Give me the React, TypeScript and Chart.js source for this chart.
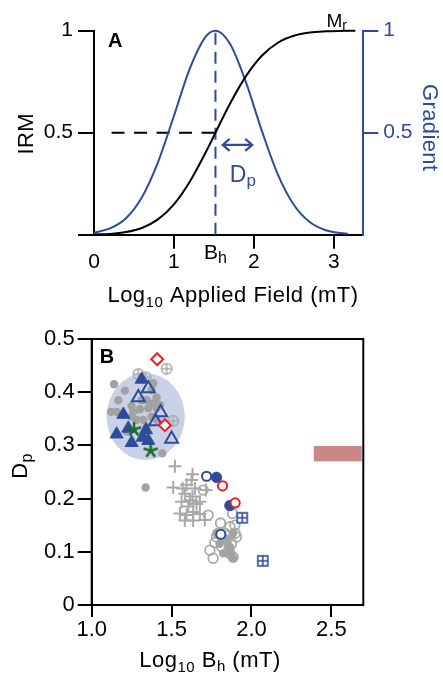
import React, { useEffect, useRef } from 'react';
import { Chart, registerables } from 'chart.js';

Chart.register(...registerables);

const FONT = '"Liberation Sans", Arial, Helvetica, sans-serif';
const BLACK = '#000000';
const BLUE = '#2f4b9d';
const RED = '#e5232b';
const GREEN = '#1c6b33';
const GRAY = '#a9a9a9';
const GRAY_DOT = '#a2a2a2';

// ---------- Panel A: IRM acquisition curve and its gradient ----------
const irmField = [0, 0.2, 0.4, 0.6, 0.8, 1.0, 1.2, 1.4, 1.52, 1.7, 1.9, 2.1, 2.3, 2.5, 2.7, 2.9, 3.05, 3.27];
const irmValues = [0.001, 0.004, 0.013, 0.033, 0.075, 0.149, 0.261, 0.405, 0.5, 0.641, 0.776, 0.877, 0.941, 0.975, 0.991, 0.997, 0.999, 1.0];
const gradientField = [0, 0.2, 0.4, 0.6, 0.8, 1.0, 1.2, 1.4, 1.52, 1.7, 1.9, 2.1, 2.3, 2.5, 2.7, 2.9, 3.18];
const gradientValues = [0.01, 0.031, 0.081, 0.184, 0.355, 0.582, 0.815, 0.972, 1.0, 0.937, 0.749, 0.51, 0.296, 0.147, 0.062, 0.022, 0.004];
const fieldTicks = [0, 1, 2, 3];
const irmTicks = [0, 0.5, 1];
const gradientTicks = [0.5, 1];
const medianField = 1.52; // B_h
const halfIrm = 0.5;
const halfLineStart = 0.22;
const dpArrowFrom = 1.61;
const dpArrowTo = 1.98;
const dpArrowLevel = 0.44;

// ---------- Panel B: D_p versus B_h ----------
const bhTicks = [1.0, 1.5, 2.0, 2.5];
const dpTicks = [0, 0.1, 0.2, 0.3, 0.4, 0.5];

const blueFilledTriangles: [number, number][] = [
  [1.3125, 0.424], [1.198, 0.358], [1.156, 0.321], [1.25, 0.305],
  [1.229, 0.332], [1.34, 0.329], [1.319, 0.315], [1.354, 0.309],
];
const blueOpenTriangles: [number, number][] = [
  [1.354, 0.407], [1.292, 0.39], [1.431, 0.362], [1.4, 0.345], [1.5, 0.312],
];
const greenStars: [number, number][] = [[1.265, 0.33], [1.369, 0.29]];
const redDiamonds: [number, number][] = [[1.41, 0.462], [1.458, 0.338]];
const redOpenCircles: [number, number][] = [[1.819, 0.224], [1.898, 0.192]];
const blueOpenCircles: [number, number][] = [[1.719, 0.242], [1.808, 0.133]];
const blueFilledCircles: [number, number][] = [[1.781, 0.24], [1.865, 0.187]];
const blueBoxedPlus: [number, number][] = [[1.942, 0.164], [2.071, 0.083]];
const grayCircledPlus: [number, number][] = [[1.292, 0.434], [1.3375, 0.428], [1.469, 0.444], [1.51, 0.346]];
const grayDots: [number, number][] = [
  [1.14, 0.415], [1.208, 0.403], [1.167, 0.385], [1.121, 0.363], [1.156, 0.363],
  [1.25, 0.374], [1.302, 0.368], [1.344, 0.385], [1.375, 0.404], [1.385, 0.417],
  [1.406, 0.39], [1.354, 0.37], [1.406, 0.37], [1.375, 0.354], [1.427, 0.376],
  [1.281, 0.348], [1.323, 0.348], [1.25, 0.354], [1.344, 0.335], [1.442, 0.285],
  [1.3375, 0.221], [1.219, 0.326], [1.406, 0.348], [1.26, 0.363], [1.3125, 0.385],
  [1.385, 0.379],
  [1.781, 0.135], [1.844, 0.122], [1.864, 0.103], [1.885, 0.088], [1.823, 0.097],
  [1.885, 0.135], [1.8, 0.115], [1.86, 0.11], [1.87, 0.095],
];
const grayOpenCircles: [number, number][] = [
  [1.729, 0.169], [1.806, 0.154], [1.881, 0.172], [1.896, 0.15], [1.898, 0.135],
  [1.781, 0.128], [1.844, 0.122], [1.906, 0.128], [1.74, 0.103], [1.76, 0.088],
  [1.865, 0.097], [1.885, 0.09], [1.86, 0.107], [1.8125, 0.11], [1.771, 0.117],
  [1.875, 0.115], [1.833, 0.135], [1.792, 0.135], [1.865, 0.147], [1.698, 0.216],
];
const grayCrosses: [number, number][] = [
  [1.521, 0.261], [1.631, 0.246], [1.625, 0.235], [1.51, 0.221], [1.569, 0.219],
  [1.646, 0.219], [1.715, 0.216], [1.583, 0.209], [1.631, 0.204], [1.5625, 0.194],
  [1.677, 0.194], [1.656, 0.19], [1.604, 0.185], [1.552, 0.172], [1.594, 0.169],
  [1.635, 0.175], [1.677, 0.171], [1.708, 0.16], [1.583, 0.159], [1.635, 0.159],
  [1.615, 0.197], [1.594, 0.226],
];
// Shaded cluster region and reference band
const clusterCenterBh = 1.338;
const clusterCenterDp = 0.354;
const clusterHalfBh = 0.245;
const clusterHalfDp = 0.0815;
const bandBh = [2.39, 2.69];
const bandDp = [0.27, 0.299];

type Part = { t: string; size: number; dy?: number; bold?: boolean };

function richText(ctx: CanvasRenderingContext2D, parts: Part[], x: number, y: number, align: 'left' | 'center', spacing = 0.4) {
  ctx.save();
  (ctx as any).letterSpacing = `${spacing}px`;
  ctx.textAlign = 'left';
  ctx.textBaseline = 'alphabetic';
  const widths = parts.map((p) => {
    ctx.font = `${p.bold ? 'bold ' : ''}${p.size}px ${FONT}`;
    return ctx.measureText(p.t).width;
  });
  const total = widths.reduce((a, b) => a + b, 0);
  let cx = align === 'center' ? x - total / 2 : x;
  parts.forEach((p, i) => {
    ctx.font = `${p.bold ? 'bold ' : ''}${p.size}px ${FONT}`;
    ctx.fillText(p.t, cx, y + (p.dy || 0));
    cx += widths[i];
  });
  ctx.restore();
}

function rotatedText(ctx: CanvasRenderingContext2D, parts: Part[], x: number, y: number, angle: number, color: string) {
  ctx.save();
  ctx.translate(x, y);
  ctx.rotate(angle);
  ctx.fillStyle = color;
  richText(ctx, parts, 0, 0, 'center');
  ctx.restore();
}

function glyph(size: number, draw: (g: CanvasRenderingContext2D, c: number) => void) {
  const cv = document.createElement('canvas');
  cv.width = size;
  cv.height = size;
  const g = cv.getContext('2d')!;
  draw(g, size / 2);
  return cv;
}

const panelAPlugin = {
  id: 'panelAText',
  afterDraw(chart: any) {
    const { ctx, chartArea } = chart;
    const x = chart.scales.x;
    const y = chart.scales.y;
    ctx.save();
    ctx.fillStyle = BLACK;
    richText(ctx, [{ t: 'A', size: 20, bold: true }], chartArea.left + 14, chartArea.top + 16, 'left', 0);
    // saturation label
    richText(ctx, [{ t: 'M', size: 19 }, { t: 'r', size: 14, dy: 3 }], x.getPixelForValue(2.91), y.getPixelForValue(1) - 4, 'left', 0);
    // B_h under the axis
    richText(ctx, [{ t: 'B', size: 21 }, { t: 'h', size: 16, dy: 4 }], x.getPixelForValue(medianField), chartArea.bottom + 24, 'center', 0);
    // D_p arrow
    const ay = y.getPixelForValue(dpArrowLevel);
    const ax0 = x.getPixelForValue(dpArrowFrom);
    const ax1 = x.getPixelForValue(dpArrowTo);
    ctx.strokeStyle = BLUE;
    ctx.lineWidth = 2.2;
    ctx.beginPath();
    ctx.moveTo(ax0, ay);
    ctx.lineTo(ax1, ay);
    ctx.moveTo(ax0 + 7, ay - 6);
    ctx.lineTo(ax0, ay);
    ctx.lineTo(ax0 + 7, ay + 6);
    ctx.moveTo(ax1 - 7, ay - 6);
    ctx.lineTo(ax1, ay);
    ctx.lineTo(ax1 - 7, ay + 6);
    ctx.stroke();
    ctx.fillStyle = BLUE;
    richText(ctx, [{ t: 'D', size: 23 }, { t: 'p', size: 17, dy: 4 }], x.getPixelForValue(1.7), y.getPixelForValue(0.26), 'left', 0);
    // axis titles
    ctx.fillStyle = BLACK;
    richText(ctx, [{ t: 'Log', size: 22 }, { t: '10', size: 15, dy: 5 }, { t: ' Applied Field (mT)', size: 22 }], 233, chartArea.bottom + 67, 'center', 0.5);
    rotatedText(ctx, [{ t: 'IRM', size: 22 }], 33, (chartArea.top + chartArea.bottom) / 2 + 1, -Math.PI / 2, BLACK);
    rotatedText(ctx, [{ t: 'Gradient', size: 22 }], 423, (chartArea.top + chartArea.bottom) / 2 - 5, Math.PI / 2, BLUE);
    ctx.restore();
  },
};

const panelBPlugin = {
  id: 'panelBDecor',
  beforeDatasetsDraw(chart: any) {
    const { ctx } = chart;
    const x = chart.scales.x;
    const y = chart.scales.y;
    ctx.save();
    // shaded cluster
    const cx = x.getPixelForValue(clusterCenterBh);
    const cy = y.getPixelForValue(clusterCenterDp);
    const rx = Math.abs(x.getPixelForValue(clusterCenterBh + clusterHalfBh) - cx);
    const ry = Math.abs(y.getPixelForValue(clusterCenterDp + clusterHalfDp) - cy);
    ctx.fillStyle = 'rgba(62, 88, 170, 0.28)';
    ctx.beginPath();
    ctx.ellipse(cx, cy, rx, ry, 0, 0, Math.PI * 2);
    ctx.fill();
    // reference band
    const bx0 = x.getPixelForValue(bandBh[0]);
    const bx1 = x.getPixelForValue(bandBh[1]);
    const by0 = y.getPixelForValue(bandDp[1]);
    const by1 = y.getPixelForValue(bandDp[0]);
    ctx.fillStyle = '#c98787';
    ctx.fillRect(bx0, by0, bx1 - bx0, by1 - by0);
    ctx.restore();
  },
  afterDraw(chart: any) {
    const { ctx, chartArea } = chart;
    ctx.save();
    ctx.strokeStyle = BLACK;
    ctx.lineWidth = 2;
    ctx.strokeRect(chartArea.left, chartArea.top, chartArea.right - chartArea.left, chartArea.bottom - chartArea.top);
    ctx.fillStyle = BLACK;
    richText(ctx, [{ t: 'B', size: 20, bold: true }], chartArea.left + 8, chartArea.top + 24, 'left', 0);
    richText(ctx, [{ t: 'Log', size: 22 }, { t: '10', size: 15, dy: 5 }, { t: ' B', size: 22 }, { t: 'h', size: 15, dy: 4 }, { t: ' (mT)', size: 22 }], 210, chartArea.bottom + 62, 'center', 0.5);
    rotatedText(ctx, [{ t: 'D', size: 22 }, { t: 'p', size: 16, dy: 5 }], 27, (chartArea.top + chartArea.bottom) / 2 - 6, -Math.PI / 2, BLACK);
    ctx.restore();
  },
};

const toPoints = (arr: [number, number][]) => arr.map(([x, y]) => ({ x, y }));
const pairUp = (xs: number[], ys: number[]) => xs.map((x, i) => ({ x, y: ys[i] }));

const tickFont = (size: number) => ({ size, family: FONT });

export default function App() {
  const refA = useRef<HTMLCanvasElement>(null);
  const refB = useRef<HTMLCanvasElement>(null);

  useEffect(() => {
    const circledPlus = glyph(14, (g, c) => {
      g.strokeStyle = GRAY;
      g.lineWidth = 1.5;
      g.beginPath();
      g.arc(c, c, 5.2, 0, Math.PI * 2);
      g.moveTo(c - 5.2, c);
      g.lineTo(c + 5.2, c);
      g.moveTo(c, c - 5.2);
      g.lineTo(c, c + 5.2);
      g.stroke();
    });
    const boxedPlus = glyph(14, (g, c) => {
      g.fillStyle = '#ffffff';
      g.fillRect(c - 5, c - 5, 10, 10);
      g.strokeStyle = BLUE;
      g.lineWidth = 1.6;
      g.strokeRect(c - 5, c - 5, 10, 10);
      g.beginPath();
      g.moveTo(c - 5, c);
      g.lineTo(c + 5, c);
      g.moveTo(c, c - 5);
      g.lineTo(c, c + 5);
      g.stroke();
    });
    const asterisk = glyph(18, (g, c) => {
      g.strokeStyle = GREEN;
      g.lineWidth = 2.6;
      g.beginPath();
      for (let k = 0; k < 5; k++) {
        const a = -Math.PI / 2 + (k * 2 * Math.PI) / 5;
        g.moveTo(c, c);
        g.lineTo(c + 7.5 * Math.cos(a), c + 7.5 * Math.sin(a));
      }
      g.stroke();
    });

    const axisGrid = (len: number, color: any) => ({
      drawOnChartArea: false,
      drawTicks: true,
      tickLength: len,
      lineWidth: 2,
      color,
    });

    const chartA = new Chart(refA.current!, {
      type: 'line',
      data: {
        datasets: [
          {
            data: pairUp(irmField, irmValues),
            borderColor: BLACK,
            borderWidth: 2,
            pointRadius: 0,
            cubicInterpolationMode: 'monotone',
            yAxisID: 'y',
            clip: false,
          },
          {
            data: pairUp(gradientField, gradientValues),
            borderColor: BLUE,
            borderWidth: 2,
            pointRadius: 0,
            cubicInterpolationMode: 'monotone',
            yAxisID: 'y2',
            clip: false,
          },
          {
            data: [{ x: halfLineStart, y: halfIrm }, { x: medianField, y: halfIrm }],
            borderColor: BLACK,
            borderWidth: 2,
            borderDash: [13, 9.5],
            pointRadius: 0,
            yAxisID: 'y',
          },
          {
            data: [{ x: medianField, y: 0 }, { x: medianField, y: 1 }],
            borderColor: BLUE,
            borderWidth: 2,
            borderDash: [12, 7],
            pointRadius: 0,
            yAxisID: 'y2',
            clip: false,
          },
        ],
      } as any,
      options: {
        responsive: false,
        animation: false,
        events: [],
        layout: { padding: { top: 30.7, left: 0, right: 0, bottom: 0 } },
        plugins: { legend: { display: false }, tooltip: { enabled: false } },
        scales: {
          x: {
            type: 'linear',
            min: 0,
            max: 3.37,
            afterBuildTicks: (s: any) => { s.ticks = fieldTicks.map((v) => ({ value: v })); },
            afterFit: (s: any) => { s.height = 75.3; },
            grid: axisGrid(14, (c: any) => (c.tick && c.tick.value === 0 ? 'rgba(0,0,0,0)' : BLACK)),
            border: { display: true, width: 2, color: BLACK },
            ticks: { font: tickFont(21), color: BLACK, padding: 1, autoSkip: false, maxRotation: 0, callback: (v: any) => String(v) },
          },
          y: {
            type: 'linear',
            position: 'left',
            min: 0,
            max: 1,
            afterBuildTicks: (s: any) => { s.ticks = irmTicks.map((v) => ({ value: v })); },
            afterFit: (s: any) => { s.width = 94; },
            grid: axisGrid(16, BLACK),
            border: { display: true, width: 2, color: BLACK },
            ticks: { font: tickFont(21), color: BLACK, padding: 5, autoSkip: false, callback: (v: any) => (v === 0 ? '' : String(v)) },
          },
          y2: {
            type: 'linear',
            position: 'right',
            min: 0,
            max: 1,
            afterBuildTicks: (s: any) => { s.ticks = gradientTicks.map((v) => ({ value: v })); },
            afterFit: (s: any) => { s.width = 79.7; },
            grid: axisGrid(15, BLUE),
            border: { display: true, width: 2, color: BLUE },
            ticks: { font: tickFont(21), color: BLUE, padding: 5, autoSkip: false, callback: (v: any) => String(v) },
          },
        },
      } as any,
      plugins: [panelAPlugin],
    });

    const chartB = new Chart(refB.current!, {
      type: 'scatter',
      data: {
        datasets: [
          { data: toPoints(greenStars), pointStyle: asterisk, pointRadius: 8 },
          { data: toPoints(redDiamonds), pointStyle: 'rectRot', pointRadius: 6, backgroundColor: '#ffffff', borderColor: RED, borderWidth: 2 },
          { data: toPoints(redOpenCircles), pointStyle: 'circle', pointRadius: 4.6, backgroundColor: '#ffffff', borderColor: RED, borderWidth: 2 },
          { data: toPoints(blueFilledCircles), pointStyle: 'circle', pointRadius: 5.2, backgroundColor: BLUE, borderColor: BLUE, borderWidth: 1 },
          { data: toPoints(blueOpenCircles), pointStyle: 'circle', pointRadius: 4.6, backgroundColor: '#ffffff', borderColor: BLUE, borderWidth: 2 },
          { data: toPoints(blueBoxedPlus), pointStyle: boxedPlus, pointRadius: 7 },
          { data: toPoints(blueOpenTriangles), pointStyle: 'triangle', pointRadius: 7.5, backgroundColor: 'rgba(0,0,0,0)', borderColor: BLUE, borderWidth: 2 },
          { data: toPoints(blueFilledTriangles), pointStyle: 'triangle', pointRadius: 7.5, backgroundColor: BLUE, borderColor: BLUE, borderWidth: 1 },
          { data: toPoints(grayCircledPlus), pointStyle: circledPlus, pointRadius: 7 },
          { data: toPoints(grayDots), pointStyle: 'circle', pointRadius: 4.2, backgroundColor: GRAY_DOT, borderColor: GRAY_DOT, borderWidth: 0 },
          { data: toPoints(grayOpenCircles), pointStyle: 'circle', pointRadius: 4.8, backgroundColor: 'rgba(0,0,0,0)', borderColor: GRAY, borderWidth: 1.8 },
          { data: toPoints(grayCrosses), pointStyle: 'cross', pointRadius: 6.5, borderColor: GRAY, borderWidth: 2 },
        ],
      } as any,
      options: {
        responsive: false,
        animation: false,
        events: [],
        layout: { padding: { top: 29, left: 0, right: 79.7, bottom: 0 } },
        plugins: { legend: { display: false }, tooltip: { enabled: false } },
        scales: {
          x: {
            type: 'linear',
            min: 1.0,
            max: 2.7,
            afterBuildTicks: (s: any) => { s.ticks = bhTicks.map((v) => ({ value: v })); },
            afterFit: (s: any) => { s.height = 68; },
            grid: axisGrid(12, BLACK),
            border: { display: true, width: 2, color: BLACK },
            ticks: { font: tickFont(22), color: BLACK, padding: 0, autoSkip: false, maxRotation: 0, callback: (v: any) => Number(v).toFixed(1) },
          },
          y: {
            type: 'linear',
            min: 0,
            max: 0.5,
            afterBuildTicks: (s: any) => { s.ticks = dpTicks.map((v) => ({ value: v })); },
            afterFit: (s: any) => { s.width = 91.7; },
            grid: axisGrid(14, BLACK),
            border: { display: true, width: 2, color: BLACK },
            ticks: { font: tickFont(22), color: BLACK, padding: 3, autoSkip: false, callback: (v: any) => (v === 0 ? '0' : Number(v).toFixed(1)) },
          },
        },
      } as any,
      plugins: [panelBPlugin],
    });

    return () => {
      chartA.destroy();
      chartB.destroy();
    };
  }, []);

  return (
    <div style={{ position: 'absolute', left: 0, top: 0, width: 443, height: 673, background: '#ffffff', overflow: 'hidden' }}>
      <canvas ref={refA} width={443} height={310} style={{ position: 'absolute', left: 0, top: 0, width: 443, height: 310 }} />
      <canvas ref={refB} width={443} height={363} style={{ position: 'absolute', left: 0, top: 310, width: 443, height: 363 }} />
    </div>
  );
}
